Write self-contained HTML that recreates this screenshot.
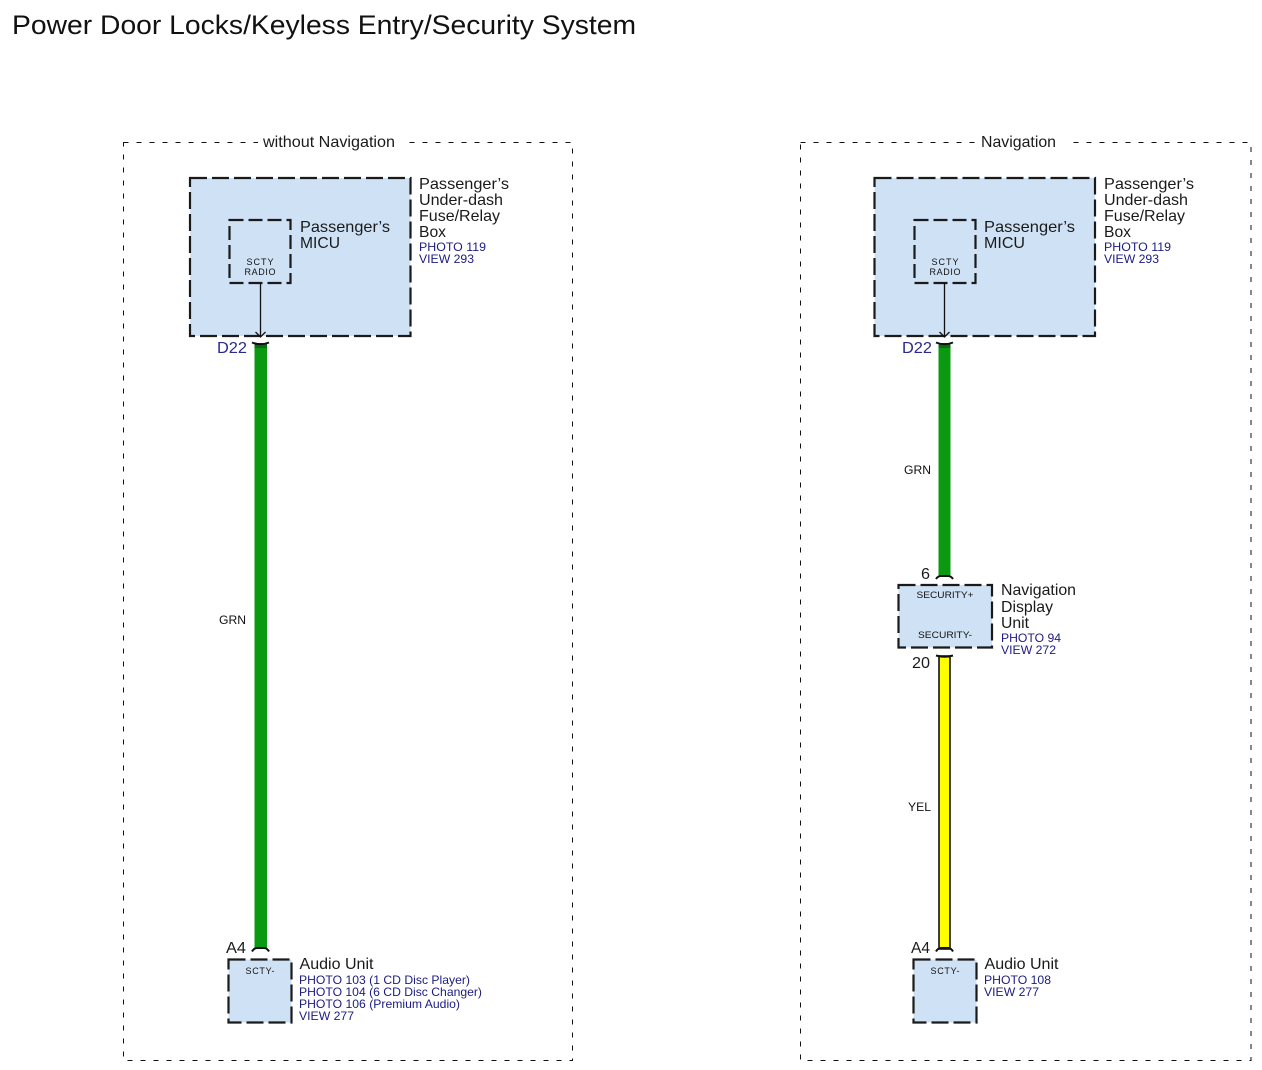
<!DOCTYPE html>
<html><head><meta charset="utf-8"><style>
html,body{margin:0;padding:0;background:#fff}
svg{display:block}
text{font-family:"Liberation Sans",sans-serif}
.l{font-size:16px;fill:#1a1a1a}
.b{font-size:12px;fill:#1c1c80}
.s{font-size:9px;fill:#111}
.w{font-size:12px;fill:#111}
.box{fill:#cfe2f5;stroke:#1a1a1a;stroke-width:2.2;stroke-dasharray:17 5}
.in{fill:none;stroke:#1a1a1a;stroke-width:2.2;stroke-dasharray:14 5}
.p{fill:none;stroke:#111;stroke-width:1;stroke-dasharray:5 8}
.cap{fill:none;stroke:#111;stroke-width:2}
</style></head><body>
<svg xmlns="http://www.w3.org/2000/svg" width="1262" height="1070" viewBox="0 0 1262 1070">
<rect width="1262" height="1070" fill="#fff"/>
<text x="12" y="34" font-size="27" textLength="624" lengthAdjust="spacingAndGlyphs" fill="#111">Power Door Locks/Keyless Entry/Security System</text>

<!-- left panel -->
<rect class="p" x="123.500" y="142.500" width="449" height="918"/>
<rect x="258" y="132" width="144" height="20" fill="#fff"/>
<text class="l" x="263" y="147" textLength="132" lengthAdjust="spacingAndGlyphs">without Navigation</text>

<rect class="box" x="190" y="178" width="220.500" height="158"/>
<rect class="in" x="229.500" y="220" width="61" height="63"/>
<text class="l" x="300" y="232" textLength="90" lengthAdjust="spacingAndGlyphs">Passenger’s</text>
<text class="l" x="300" y="248" textLength="40" lengthAdjust="spacingAndGlyphs">MICU</text>
<text class="s" x="260" y="265" text-anchor="middle" textLength="27" lengthAdjust="spacing">SCTY</text>
<text class="s" x="260" y="275" text-anchor="middle" textLength="31" lengthAdjust="spacing">RADIO</text>
<text class="l" x="419" y="189" textLength="90" lengthAdjust="spacingAndGlyphs">Passenger’s</text>
<text class="l" x="419" y="205" textLength="84" lengthAdjust="spacingAndGlyphs">Under-dash</text>
<text class="l" x="419" y="221" textLength="81" lengthAdjust="spacingAndGlyphs">Fuse/Relay</text>
<text class="l" x="419" y="237" textLength="27" lengthAdjust="spacingAndGlyphs">Box</text>
<text class="b" x="419" y="251" textLength="67" lengthAdjust="spacingAndGlyphs">PHOTO 119</text>
<text class="b" x="419" y="263" textLength="55" lengthAdjust="spacingAndGlyphs">VIEW 293</text>
<path d="M260.500 283V337M255.500 332L260.500 337L265.500 332" fill="none" stroke="#111" stroke-width="1.3"/>
<rect x="254.500" y="343" width="12.500" height="605" fill="#0a9a12"/>
<rect x="254.500" y="343" width="12.500" height="5" fill="#0b6e12"/>
<path class="cap" d="M252 342.500Q260.500 346 269 342.500"/>
<text class="l" x="217" y="353" textLength="30" lengthAdjust="spacingAndGlyphs" style="fill:#2a2a8a">D22</text>
<text class="w" x="219" y="624" textLength="27" lengthAdjust="spacingAndGlyphs">GRN</text>
<path class="cap" d="M252 951.500Q254 948 257 948H264Q267 948 269 951.500"/>
<text class="l" x="226" y="953" textLength="20" lengthAdjust="spacingAndGlyphs">A4</text>
<rect class="box" x="228.500" y="959.500" width="63" height="63"/>
<text class="s" x="260" y="974" text-anchor="middle" textLength="29" lengthAdjust="spacing">SCTY-</text>
<text class="l" x="299.500" y="969" textLength="74" lengthAdjust="spacingAndGlyphs">Audio Unit</text>
<text class="b" x="299" y="984" textLength="171" lengthAdjust="spacingAndGlyphs">PHOTO 103 (1 CD Disc Player)</text>
<text class="b" x="299" y="996" textLength="183" lengthAdjust="spacingAndGlyphs">PHOTO 104 (6 CD Disc Changer)</text>
<text class="b" x="299" y="1008" textLength="161" lengthAdjust="spacingAndGlyphs">PHOTO 106 (Premium Audio)</text>
<text class="b" x="299" y="1020" textLength="55" lengthAdjust="spacingAndGlyphs">VIEW 277</text>

<!-- right panel -->
<rect class="p" x="800.500" y="142.500" width="450.500" height="918"/>
<rect x="976" y="132" width="94" height="20" fill="#fff"/>
<text class="l" x="981" y="147" textLength="75" lengthAdjust="spacingAndGlyphs">Navigation</text>

<rect class="box" x="874.500" y="178" width="220.500" height="158"/>
<rect class="in" x="914.500" y="220" width="61" height="63"/>
<text class="l" x="984" y="232" textLength="91" lengthAdjust="spacingAndGlyphs">Passenger’s</text>
<text class="l" x="984" y="248" textLength="41" lengthAdjust="spacingAndGlyphs">MICU</text>
<text class="s" x="945" y="265" text-anchor="middle" textLength="27" lengthAdjust="spacing">SCTY</text>
<text class="s" x="945" y="275" text-anchor="middle" textLength="31" lengthAdjust="spacing">RADIO</text>
<text class="l" x="1104" y="189" textLength="90" lengthAdjust="spacingAndGlyphs">Passenger’s</text>
<text class="l" x="1104" y="205" textLength="84" lengthAdjust="spacingAndGlyphs">Under-dash</text>
<text class="l" x="1104" y="221" textLength="81" lengthAdjust="spacingAndGlyphs">Fuse/Relay</text>
<text class="l" x="1104" y="237" textLength="27" lengthAdjust="spacingAndGlyphs">Box</text>
<text class="b" x="1104" y="251" textLength="67" lengthAdjust="spacingAndGlyphs">PHOTO 119</text>
<text class="b" x="1104" y="263" textLength="55" lengthAdjust="spacingAndGlyphs">VIEW 293</text>
<path d="M944.500 283V337M939.500 332L944.500 337L949.500 332" fill="none" stroke="#111" stroke-width="1.3"/>
<rect x="938.500" y="343" width="12" height="234" fill="#0a9a12"/>
<rect x="938.500" y="343" width="12" height="5" fill="#0b6e12"/>
<path class="cap" d="M936 342.500Q944.500 346 953 342.500"/>
<text class="l" x="902" y="353" textLength="30" lengthAdjust="spacingAndGlyphs" style="fill:#2a2a8a">D22</text>
<text class="w" x="904" y="474" textLength="27" lengthAdjust="spacingAndGlyphs">GRN</text>
<path class="cap" d="M936 579Q938 576 941 576H948Q951 576 953 579"/>
<text class="l" x="921" y="579" textLength="9" lengthAdjust="spacingAndGlyphs">6</text>

<rect class="box" x="898.500" y="585" width="93.500" height="62.500"/>
<text class="s" x="945" y="598" text-anchor="middle" textLength="57" lengthAdjust="spacingAndGlyphs">SECURITY+</text>
<text class="s" x="945" y="638" text-anchor="middle" textLength="54" lengthAdjust="spacingAndGlyphs">SECURITY-</text>
<text class="l" x="1001" y="595" textLength="75" lengthAdjust="spacingAndGlyphs">Navigation</text>
<text class="l" x="1001" y="612" textLength="52" lengthAdjust="spacingAndGlyphs">Display</text>
<text class="l" x="1001" y="628" textLength="28" lengthAdjust="spacingAndGlyphs">Unit</text>
<text class="b" x="1001" y="642" textLength="60" lengthAdjust="spacingAndGlyphs">PHOTO 94</text>
<text class="b" x="1001" y="654" textLength="55" lengthAdjust="spacingAndGlyphs">VIEW 272</text>

<rect x="939" y="656" width="11" height="293" fill="#ffff00" stroke="#111" stroke-width="1.6"/>
<path class="cap" d="M936 655.500Q944.500 658 953 655.500"/>
<text class="l" x="912" y="668" textLength="18" lengthAdjust="spacingAndGlyphs">20</text>
<text class="w" x="908" y="811" textLength="23" lengthAdjust="spacingAndGlyphs">YEL</text>
<path class="cap" d="M936 951.500Q938 948 941 948H948Q951 948 953 951.500"/>
<text class="l" x="911" y="953" textLength="19" lengthAdjust="spacingAndGlyphs">A4</text>
<rect class="box" x="913.500" y="959.500" width="63" height="63"/>
<text class="s" x="945" y="974" text-anchor="middle" textLength="29" lengthAdjust="spacing">SCTY-</text>
<text class="l" x="984.500" y="969" textLength="74" lengthAdjust="spacingAndGlyphs">Audio Unit</text>
<text class="b" x="984" y="984" textLength="67" lengthAdjust="spacingAndGlyphs">PHOTO 108</text>
<text class="b" x="984" y="996" textLength="55" lengthAdjust="spacingAndGlyphs">VIEW 277</text>
</svg>
</body></html>
